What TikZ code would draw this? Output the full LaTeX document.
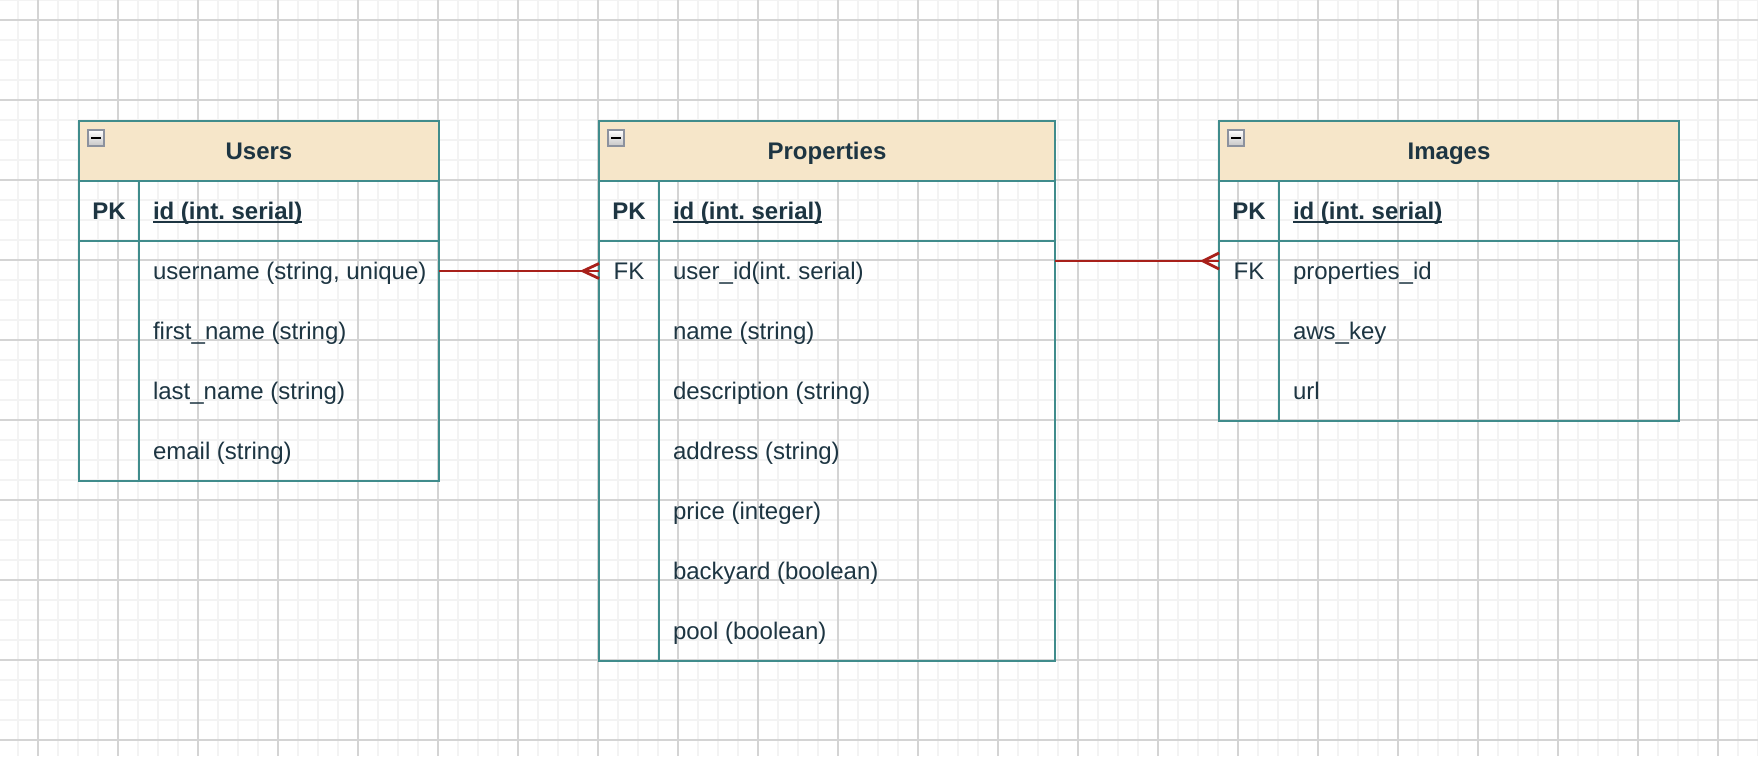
\documentclass[tikz,border=0pt]{standalone}
\usepackage{fontspec}
\setmainfont{Liberation Sans}
\frenchspacing
\definecolor{gridminor}{HTML}{F3F3F3}
\definecolor{gridmajor}{HTML}{D4D4D4}
\definecolor{tealb}{HTML}{408C8C}
\definecolor{hdr}{HTML}{F6E6C9}
\definecolor{ink}{HTML}{1D3542}
\definecolor{edgered}{HTML}{A8201A}
\definecolor{iconborder}{HTML}{8C929E}
\begin{document}
\begin{tikzpicture}[x=0.5pt,y=-0.5pt,
  tline/.style={draw=tealb,line width=1pt},
  tbox/.style={draw=tealb,line width=1pt,anchor=north west,inner sep=0pt,outer sep=0pt},
  hbox/.style={tbox,fill=hdr,minimum height=30pt},
  txt/.style={text=ink,inner sep=0pt,outer sep=0pt,font=\fontsize{12pt}{14pt}\selectfont},
  fld/.style={txt,anchor=base west},
  key/.style={txt,anchor=base},
  ttl/.style={txt,anchor=base,font=\fontsize{12pt}{14pt}\selectfont\bfseries},
  cbox/.style={draw=iconborder,line width=0.8pt,top color=white,bottom color=black!22,minimum size=8pt,anchor=north west,inner sep=0pt,outer sep=0pt},
  minusbar/.style={draw=black,line width=1pt},
  uline/.style={draw=ink,line width=0.9pt},
  edge/.style={draw=edgered,line width=1.4pt}
]
\useasboundingbox (0,0) rectangle (1758,756);
\fill[white] (0,0) rectangle (1758,756);
% grid
\foreach \gx in {18,38,...,1758} \draw[gridminor,line width=1pt] (\gx,0) -- (\gx,756);
\foreach \gy in {0,20,...,756} \draw[gridminor,line width=1pt] (0,\gy) -- (1758,\gy);
\foreach \gx in {38,118,...,1758} \draw[gridmajor,line width=0.7pt] (\gx,0) -- (\gx,756);
\foreach \gy in {20,100,...,756} \draw[gridmajor,line width=0.7pt] (0,\gy) -- (1758,\gy);

% ---------------- Users ----------------
\node[tbox,minimum width=180pt,minimum height=180pt] (users) at (79,121) {};
\node[hbox,minimum width=180pt] (usersH) at (79,121) {};
\draw[tline] (users.west |- 0,241) -- (users.east |- 0,241);
\draw[tline] (139,181) -- (139,481);
\node[cbox] (usersC) at (88,130) {};
\draw[minusbar] ([xshift=1.5pt]usersC.west) -- ([xshift=-1.5pt]usersC.east);
\node[ttl] (usersT) at (259,159) {Users};
\node[key,font=\fontsize{12pt}{14pt}\selectfont\bfseries] (usersPK) at (109,219) {PK};
\node[fld,font=\fontsize{12pt}{14pt}\selectfont\bfseries] (usersId) at (153,219) {id (int. serial)};
\draw[uline] ([yshift=-1.3pt]usersId.base west) -- ([yshift=-1.3pt]usersId.base east);
\node[fld] (usersR1) at (153,279) {username (string, unique)};
\node[fld] (usersR2) at (153,339) {first\_name (string)};
\node[fld] (usersR3) at (153,399) {last\_name (string)};
\node[fld] (usersR4) at (153,459) {email (string)};

% ---------------- Properties ----------------
\node[tbox,minimum width=228pt,minimum height=270pt] (props) at (599,121) {};
\node[hbox,minimum width=228pt] (propsH) at (599,121) {};
\draw[tline] (props.west |- 0,241) -- (props.east |- 0,241);
\draw[tline] (659,181) -- (659,661);
\node[cbox] (propsC) at (608,130) {};
\draw[minusbar] ([xshift=1.5pt]propsC.west) -- ([xshift=-1.5pt]propsC.east);
\node[ttl] (propsT) at (827,159) {Properties};
\node[key,font=\fontsize{12pt}{14pt}\selectfont\bfseries] (propsPK) at (629,219) {PK};
\node[fld,font=\fontsize{12pt}{14pt}\selectfont\bfseries] (propsId) at (673,219) {id (int. serial)};
\draw[uline] ([yshift=-1.3pt]propsId.base west) -- ([yshift=-1.3pt]propsId.base east);
\node[key] (propsFK) at (629,279) {FK};
\node[fld] (propsR1) at (673,279) {user\_id(int. serial)};
\node[fld] (propsR2) at (673,339) {name (string)};
\node[fld] (propsR3) at (673,399) {description (string)};
\node[fld] (propsR4) at (673,459) {address (string)};
\node[fld] (propsR5) at (673,519) {price (integer)};
\node[fld] (propsR6) at (673,579) {backyard (boolean)};
\node[fld] (propsR7) at (673,639) {pool (boolean)};

% ---------------- Images ----------------
\node[tbox,minimum width=230pt,minimum height=150pt] (imgs) at (1219,121) {};
\node[hbox,minimum width=230pt] (imgsH) at (1219,121) {};
\draw[tline] (imgs.west |- 0,241) -- (imgs.east |- 0,241);
\draw[tline] (1279,181) -- (1279,421);
\node[cbox] (imgsC) at (1228,130) {};
\draw[minusbar] ([xshift=1.5pt]imgsC.west) -- ([xshift=-1.5pt]imgsC.east);
\node[ttl] (imgsT) at (1449,159) {Images};
\node[key,font=\fontsize{12pt}{14pt}\selectfont\bfseries] (imgsPK) at (1249,219) {PK};
\node[fld,font=\fontsize{12pt}{14pt}\selectfont\bfseries] (imgsId) at (1293,219) {id (int. serial)};
\draw[uline] ([yshift=-1.3pt]imgsId.base west) -- ([yshift=-1.3pt]imgsId.base east);
\node[key] (imgsFK) at (1249,279) {FK};
\node[fld] (imgsR1) at (1293,279) {properties\_id};
\node[fld] (imgsR2) at (1293,339) {aws\_key};
\node[fld] (imgsR3) at (1293,399) {url};

% ---------------- connectors ----------------
\coordinate (e1s) at (users.east |- 0,271);
\coordinate (e1t) at (props.west |- 0,271);
\coordinate (e2s) at (props.east |- 0,261);
\coordinate (e2t) at (imgs.west |- 0,261);
\draw[edge] (e1s) -- (e1t);
\draw[edge] (e1t) ++(0,-7.5) -- ++(-16,7.5) -- ++(16,7.5);
\draw[edge] (e2s) -- (e2t);
\draw[edge] (e2t) ++(0,-8) -- ++(-16,8) -- ++(16,8);
\end{tikzpicture}
\end{document}
